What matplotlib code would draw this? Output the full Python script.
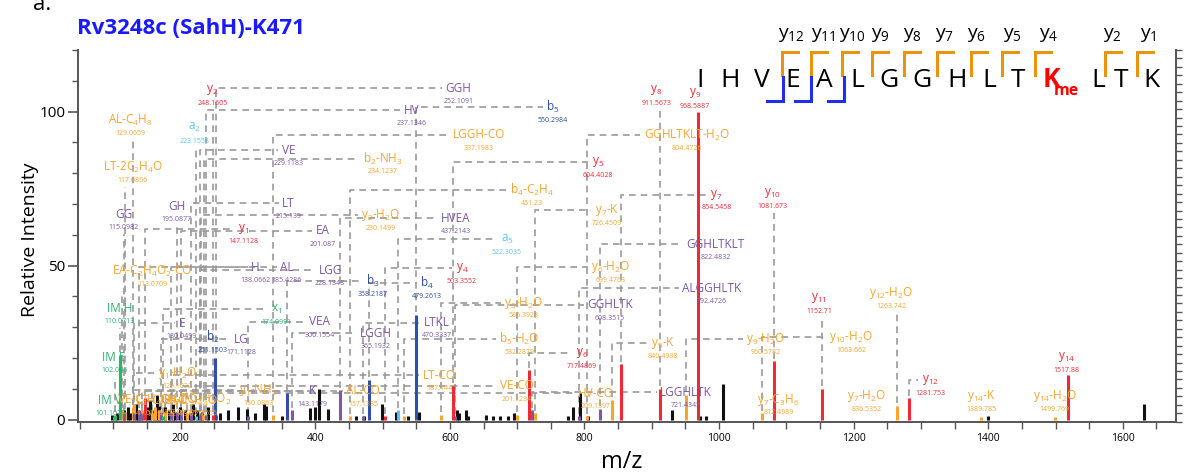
# MS/MS spectrum of Rv3248c (SahH)-K471 with fragment annotations

import numpy as np
import matplotlib as mpl
import matplotlib.pyplot as plt
from matplotlib.lines import Line2D

mpl.rcParams['font.family'] = ['Open Sans', 'DejaVu Sans']
mpl.rcParams['mathtext.fontset'] = 'custom'
mpl.rcParams['mathtext.rm'] = 'Open Sans'
mpl.rcParams['mathtext.it'] = 'Open Sans:italic'
mpl.rcParams['mathtext.bf'] = 'Open Sans:bold'
mpl.rcParams['mathtext.default'] = 'regular'

W, H = 1187, 476

# ---- peaks (m/z, relative intensity) ----
red_mz = [147.11, 248.16, 503.36, 604.40, 717.49, 854.55, 911.57, 968.59, 1081.67, 1152.71, 1281.75, 1517.88]
red_int = [7, 1.5, 1, 11, 16, 18, 10, 100, 19, 10, 7, 14.5]

blue_mz = [251.15, 358.22, 479.26, 550.30]
blue_int = [20, 8.5, 13, 34]

lblue_mz = [223.16, 522.30]
lblue_int = [1, 3]

green_mz = [101.11, 102.06, 110.07, 174.10]
green_int = [1, 1.5, 21, 1]

orange_mz = [113.07, 117.09, 129.07, 130.09, 141.07, 143.07, 157.13, 162.10, 167.09, 177.10, 187.14,
             201.12, 209.14, 230.15, 234.12, 337.20, 451.23, 532.29, 586.39, 699.48, 726.45, 804.47,
             840.49, 950.60, 1063.66, 1263.74, 1389.79, 1499.77]
orange_int = [3, 2.5, 4, 5, 2, 3, 2, 4, 3, 2.5, 2.5,
              3, 2, 2, 1.5, 1.5, 1, 1, 1.5, 1.5, 2, 1,
              6.5, 8, 2, 4.5, 0.8, 0.8]

purple_mz = [115.10, 130.05, 138.07, 143.12, 171.11, 185.43, 195.09, 201.09, 215.14, 228.13, 229.12,
             237.13, 252.11, 300.16, 365.19, 437.21, 470.33, 608.35, 721.43, 792.47, 822.48]
purple_int = [2, 2, 3, 2, 2.5, 2, 2.5, 3, 2, 2, 1.5,
              1.5, 1.5, 1, 3, 9.5, 1, 1, 3, 1, 3.5]

black_mz = [98, 105, 116, 121, 125, 133, 136, 141, 150, 155, 160, 165, 168, 177, 183, 188, 192, 199,
            206, 214, 219, 224, 232, 241, 259, 270, 285, 298, 310, 324, 327, 351, 392, 400, 405, 419,
            461, 472, 499, 520, 538, 554, 610, 613, 624, 627, 653, 664, 674, 686, 695, 776, 783, 793,
            805, 930, 971, 981, 1006, 1400, 1631]
black_int = [1.5, 2, 3, 4, 2, 5, 3, 2.5, 4, 6, 3, 8, 4.5, 4, 3, 5, 2.5, 4,
             3, 2, 5, 3, 2.5, 4, 2, 3, 4.2, 3.5, 2, 5, 4.5, 1, 3.7, 4, 10, 3.5,
             1, 1, 5, 2.5, 1, 2.5, 3, 2, 3, 1, 1.5, 1, 1, 1, 2, 1, 4, 8.5,
             1, 3, 1, 1, 11.5, 1, 5]

# ---- annotations: label, m/z text, colour key, annotated peak ----
anno_label = ['y$_2$', 'AL-C$_4$H$_8$', 'a$_2$', 'GGH', 'HV', 'b$_5$', 'VE', 'LGGH-CO', 'b$_2$-NH$_3$',
              'LT-2C$_2$H$_4$O', 'y$_8$', 'y$_9$', 'GGHLTKLT-H$_2$O', 'y$_5$', 'b$_4$-C$_2$H$_4$', 'y$_7$-K',
              'y$_7$', 'y$_{10}$', 'GH', 'LT', 'y$_2$-H$_2$O', 'HVEA', 'a$_5$', 'GG', 'y$_1$', 'EA',
              'GGHLTKLT', 'y$_6$-H$_2$O', 'H', 'AL', 'LGG', 'b$_3$', 'b$_4$', 'y$_4$',
              'EA-C$_2$H$_4$O$_2$-CO', 'ALGGHLTK', 'IM H', 'x$_1$', 'VEA', 'y$_5$-H$_2$O', 'GGHLTK',
              'LTKL', 'E', 'y$_{11}$', 'y$_{12}$-H$_2$O', 'b$_2$', 'LG', 'LGGH', 'b$_5$-H$_2$O', 'y$_6$',
              'y$_9$-K', 'y$_9$-H$_2$O', 'y$_{10}$-H$_2$O', 'IM E', 'y$_1$-H$_2$O', 'LT-CO', 'VE-CO',
              'y$_7$-C$_3$H$_6$', 'y$_{12}$', 'y$_{14}$', 'y$_1$-NH$_3$', 'K', 'AL-CO', 'HV-CO', 'LGGHLTK',
              'y$_7$-H$_2$O', 'y$_{14}$-K', 'y$_{14}$-H$_2$O', 'IM V',
              'VE-C$_2$H$_4$O$_2$', 'LT-C$_2$H$_4$O', 'GH-CO', 'EA-C$_2$H$_4$O', 'LT-C$_2$H$_4$O$_2$']
anno_value = ['248.1605', '129.0659', '223.1553', '252.1091', '237.1346', '550.2984', '229.1183', '337.1983',
              '234.1237', '117.0866', '911.5673', '968.5887', '804.4726', '604.4028', '451.23', '726.4509',
              '854.5458', '1081.673', '195.0877', '215.139', '230.1499', '437.2143', '522.3035', '115.0982',
              '147.1128', '201.087', '822.4832', '699.4763', '138.0662', '185.4286', '228.1348', '358.2187',
              '479.2613', '503.3552', '113.0709', '792.4726', '110.0713', '174.0991', '300.1554', '586.3923',
              '608.3515', '470.3337', '130.0499', '1152.71', '1263.742', '251.1503', '171.1128', '365.1932',
              '532.2879', '717.4869', '840.4938', '960.5782', '1063.662', '102.056', '129.1022', '187.144',
              '201.1234', '812.4989', '1281.753', '1517.88', '130.0863', '143.1179', '157.1335', '209.1397',
              '721.4345', '836.5352', '1389.785', '1499.769', '101.1073',
              '141.0713', '162.1022', '167.0927', '143.0713', '177.1656']
anno_color = ['r', 'o', 'c', 'p', 'p', 'b', 'p', 'o', 'o',
              'o', 'r', 'r', 'o', 'r', 'o', 'o',
              'r', 'r', 'p', 'p', 'o', 'p', 'c', 'p', 'r', 'p',
              'p', 'o', 'p', 'p', 'p', 'b', 'b', 'r',
              'o', 'p', 'g', 'g', 'p', 'o', 'p',
              'p', 'p', 'r', 'o', 'b', 'p', 'p', 'o', 'r',
              'o', 'o', 'o', 'g', 'o', 'o', 'o',
              'o', 'r', 'r', 'o', 'p', 'o', 'o', 'p',
              'o', 'o', 'o', 'g',
              'o', 'o', 'o', 'o', 'o']
anno_peak = [248.16, 129.07, 223.16, 252.11, 237.13, 550.30, 229.12, 337.20, 234.12,
             117.09, 911.57, 968.59, 804.47, 604.40, 451.23, 726.45,
             854.55, 1081.67, 195.09, 215.14, 230.15, 437.21, 522.30, 115.10, 147.11, 201.09,
             822.48, 699.48, 138.07, 185.43, 228.13, 358.22, 479.26, 503.36,
             113.07, 792.47, 110.07, 174.10, 300.16, 586.39, 608.35,
             470.33, 130.05, 1152.71, 1263.74, 251.15, 171.11, 365.19, 532.29, 717.49,
             840.49, 950.60, 1063.66, 102.06, 129.07, 187.14, 201.12,
             None, 1281.75, 1517.88, 130.09, 143.12, 157.13, 209.14, 721.43,
             None, 1389.79, 1499.77, 101.11,
             141.07, 162.10, 167.09, 143.07, 177.10]

# label placement (m/z, intensity of label centre)
label_x = [247, 125, 221, 613, 543, 753, 360, 643, 500,
           129, 907, 964, 952, 820, 722, 833,
           996, 1080, 194, 360, 497, 609, 685, 115, 293, 411,
           995, 839, 311, 358, 422, 486, 566, 618,
           158, 989, 109, 342, 406, 710, 838,
           580, 202, 1149, 1256, 248, 290, 490, 703, 796,
           917, 1069, 1196, 101, 195, 584, 700,
           1088, 1314, 1516, 316, 396, 471, 817, 951,
           1219, 1390, 1499, 95,
           150, 172, 196, 214, 232]
label_y = [107, 97.2, 94.7, 107.6, 100.5, 101.5, 87.5, 92.4, 84.7,
           82, 107, 106, 92.4, 83.6, 74.5, 68,
           73, 73.5, 69.3, 70.3, 66.4, 65.4, 58.6, 66.7, 62, 61.3,
           57, 49.5, 49.5, 49.5, 48.5, 45, 44.3, 49.2,
           48.2, 42.7, 36.2, 35.9, 31.7, 38, 37.2,
           31.5, 31.3, 39.5, 41, 26.8, 26.1, 28.1, 26.1, 21.6,
           24.9, 26.1, 26.8, 20.3, 15.1, 14.4, 10.9,
           6.5, 12.8, 20.3, 9.6, 9.3, 9.3, 8.6, 8.9,
           7.6, 7.6, 7.6, 6.3,
           6.3, 5.8, 6.6, 6.0, 6.4]

# peptide sequence
seq = ['I', 'H', 'V', 'E', 'A', 'L', 'G', 'G', 'H', 'L', 'T', 'K', 'L', 'T', 'K']
mod_site = 11
y_ions = ['12', '11', '10', '9', '8', '7', '6', '5', '4', '2', '1']

colors = {'r': '#ee2a35', 'o': '#f8a530', 'p': '#7d58a5', 'b': '#2f4fa8',
          'c': '#5cc3ee', 'g': '#2db36e', 'k': '#111111'}

fig = plt.figure(figsize=(W / 100, H / 100), dpi=100)
ax = fig.add_axes([77.7 / W, 1 - 421.7 / H, (1176 - 77.7) / W, (421.7 - 50) / H])
ax.set_xlim(47, 1679)
ax.set_ylim(-0.7, 120)

# sticks
groups = [(black_mz, black_int, 'k'), (orange_mz, orange_int, 'o'), (purple_mz, purple_int, 'p'),
          (green_mz, green_int, 'g'), (lblue_mz, lblue_int, 'c'), (blue_mz, blue_int, 'b'),
          (red_mz, red_int, 'r')]
for mz, inten, ck in groups:
    ax.vlines(mz, 0, inten, colors=colors[ck], lw=2.2, zorder=3)

all_mz = np.concatenate([np.array(g[0], float) for g in groups])
all_int = np.concatenate([np.array(g[1], float) for g in groups])

# labels and dashed connectors
fig.canvas.draw()
renderer = fig.canvas.get_renderer()
inv = ax.transData.inverted()
dash = dict(color='#9a9a9a', lw=1.2, ls=(0, (4, 3)), zorder=1)
for lab, val, ck, pk, lx, ly in zip(anno_label, anno_value, anno_color, anno_peak, label_x, label_y):
    c = colors[ck]
    t = ax.text(lx, ly, lab, color=c, fontsize=8.5, ha='center', va='center', zorder=5)
    ax.text(lx, ly - 4.3, val, color=c, fontsize=5, ha='center', va='center', zorder=5)
    if pk is None:
        continue
    bb = t.get_window_extent(renderer)
    (x0, y0), (x1, y1) = inv.transform([[bb.x0, bb.y0], [bb.x1, bb.y1]])
    ip = all_int[np.argmin(np.abs(all_mz - pk))] + 0.8
    if x0 - 4 <= pk <= x1 + 4:
        if ly - 6.5 > ip:
            ax.plot([pk, pk], [ip, ly - 6.5], **dash)
    else:
        edge = x0 - 5 if pk < x0 else x1 + 5
        ax.plot([pk, pk, edge], [ip, ly, ly], **dash)

# axes styling
for s in ['top', 'right']:
    ax.spines[s].set_visible(False)
for s in ['left', 'bottom']:
    ax.spines[s].set_color('#555555')
    ax.spines[s].set_linewidth(1.4)
ax.set_yticks([0, 50, 100])
ax.set_yticks(range(0, 121, 10), minor=True)
ax.set_xticks(range(200, 1601, 200))
ax.set_xticks(range(50, 1651, 50), minor=True)
ax.tick_params(axis='y', which='major', length=7, width=1.2, color='#555555', labelsize=11, pad=2)
ax.tick_params(axis='y', which='minor', length=4, width=1, color='#555555')
ax.tick_params(axis='x', which='both', length=5, width=1, color='#555555', labelsize=7.5, pad=3)
ax.set_xlabel('m/z', fontsize=17, va='center')
ax.set_ylabel('Relative Intensity', fontsize=14, va='center')
ax.xaxis.set_label_coords(0.4956, -0.108)
ax.yaxis.set_label_coords(-0.0434, 0.489)

ax2 = ax.twinx()
ax2.set_ylim(0, 44)
ax2.set_yticks(range(45))
ax2.set_yticklabels([])
ax2.tick_params(axis='y', length=4, width=1, color='#555555')
for s in ['top', 'left', 'bottom']:
    ax2.spines[s].set_visible(False)
ax2.spines['right'].set_color('#555555')
ax2.spines['right'].set_linewidth(1.4)

# titles
fig.text(33 / W, 1 - 4 / H, 'a.', fontsize=16, va='center', ha='left')
fig.text(77 / W, 1 - 28 / H, 'Rv3248c (SahH)-K471', color='#1a1aff', fontsize=16,
         fontweight='bold', ha='left', va='center')

# peptide sequence with fragment brackets
seq_px = [700, 730, 762, 793, 824, 857, 889, 922, 957, 989, 1018, 1051, 1098, 1121, 1151]
for i, (aa, px) in enumerate(zip(seq, seq_px)):
    if i == mod_site:
        fig.text(px / W, 1 - 87 / H, aa, fontsize=19, color='#ff0000', fontweight='bold',
                 ha='center', va='baseline')
        fig.text((px + 15) / W, 1 - 95 / H, 'me', fontsize=11.5, color='#ff0000', fontweight='bold',
                 ha='center', va='baseline')
    else:
        fig.text(px / W, 1 - 87 / H, aa, fontsize=19, color='black', ha='center', va='baseline')

y_bracket_px = [782, 811, 842, 872, 904, 937, 971, 1002, 1035, 1105, 1137]
y_label_px = [778, 811, 839, 871, 903, 935, 967, 1003, 1039, 1103, 1140]
for n, bx, lx in zip(y_ions, y_bracket_px, y_label_px):
    fig.add_artist(Line2D([(bx + 16) / W, bx / W, bx / W], [1 - 52 / H, 1 - 52 / H, 1 - 75 / H],
                          color='#e8940f', lw=2.2, solid_joinstyle='miter'))
    fig.text(lx / W, 1 - 38.5 / H, 'y$_{' + n + '}$', fontsize=14, ha='left', va='baseline')

b_bracket_px = [783, 811, 844]
for bx in b_bracket_px:
    fig.add_artist(Line2D([bx / W, bx / W, (bx - 16) / W], [1 - 77 / H, 1 - 101 / H, 1 - 101 / H],
                          color='#2030e8', lw=2.2, solid_joinstyle='miter'))

fig.savefig('out.png', dpi=100)
